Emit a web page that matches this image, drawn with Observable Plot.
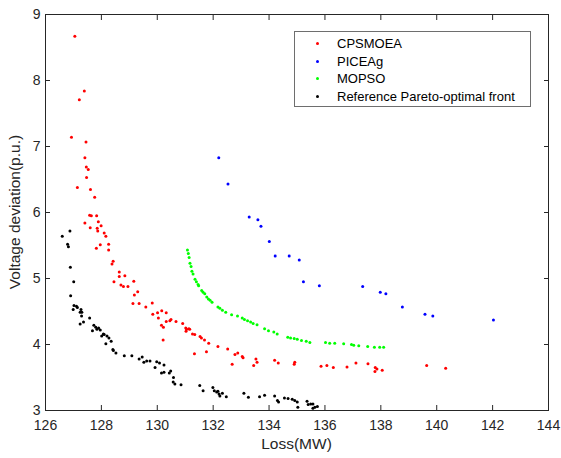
<!DOCTYPE html>
<html>
<head>
<meta charset="utf-8">
<script src="https://cdn.jsdelivr.net/npm/d3@7"></script>
<script src="https://cdn.jsdelivr.net/npm/@observablehq/plot@0.6"></script>
<style>
  body { margin: 0; background: #fff; }
  #wrap { position: relative; width: 561px; height: 458px; font-family: Arial, "Liberation Sans", sans-serif; }
  #legend { position: absolute; left: 294px; top: 31px; width: 237px; height: 76px; border: 1px solid #6e6e6e; background: #fff; box-sizing: border-box; }
  .row { position: absolute; left: 0; height: 18px; font-size: 13px; color: #000; line-height: 18px; }
  .row span.dot { position: absolute; left: 21px; top: 7px; width: 3px; height: 3px; border-radius: 50%; }
  .row span.lab { position: absolute; left: 42px; top: 0; white-space: nowrap; }
</style>
</head>
<body>
<div id="wrap"></div>
<script>
// Data: [Loss(MW), Voltage deviation(p.u.)]
const seriesNames = ["CPSMOEA", "PICEAg", "MOPSO", "Reference Pareto-optimal front"];
const seriesColors = ["#ff0000", "#0000ff", "#00ff00", "#000000"];
const xTicks = [126, 128, 130, 132, 134, 136, 138, 140, 142, 144];
const yTicks = [3, 4, 5, 6, 7, 8, 9];

const cpsmoea = [
  [127.05,8.67],[127.39,7.84],[127.21,7.71],[126.93,7.14],[127.45,7.07],[127.41,6.83],[127.46,6.69],[127.53,6.65],
  [127.47,6.53],[127.14,6.38],[127.61,6.35],[127.76,6.23],
  [127.58,5.96],[127.64,5.95],[127.83,5.95],[127.41,5.84],[127.89,5.86],[127.99,5.80],[127.60,5.77],[127.85,5.76],
  [127.87,5.72],[128.10,5.69],[128.16,5.64],[127.82,5.46],[127.96,5.51],[128.26,5.52],[128.26,5.43],[128.42,5.26],
  [128.38,5.22],[128.64,5.10],[128.84,5.04],[128.64,5.03],[128.45,4.95],[128.70,4.90],[128.79,4.88],[129.16,4.96],
  [128.95,4.88],[129.30,4.80],[129.18,4.75],[129.13,4.62],[129.35,4.62],[129.59,4.57],[129.82,4.63],[129.84,4.46],
  [130.01,4.48],[130.16,4.51],[130.32,4.48],[130.04,4.40],[130.15,4.29],[130.22,4.26],[130.32,4.35],[130.45,4.36],
  [130.49,4.38],[130.67,4.35],[130.91,4.32],[131.02,4.25],[131.05,4.23],[131.13,4.24],[131.03,4.20],[131.16,4.23],
  [131.26,4.16],[131.34,4.15],[131.53,4.12],[131.58,4.10],[131.69,4.07],[130.21,4.07],[131.84,4.02],[132.17,3.97],
  [131.33,3.86],[131.76,3.89],[132.52,3.93],[132.78,3.85],[132.88,3.87],[133.04,3.82],[133.07,3.80],[132.68,3.70],
  [133.53,3.78],[133.57,3.73],[133.45,3.68],[134.20,3.76],[134.33,3.72],[134.92,3.73],[134.90,3.70],
  [135.86,3.67],[136.07,3.68],[136.30,3.65],[136.79,3.66],[137.11,3.72],[137.54,3.71],[137.80,3.65],[137.86,3.63],
  [137.79,3.59],[138.05,3.61],[139.64,3.68],[140.32,3.64]
];

const piceag = [
  [132.20,6.83],[132.53,6.43],[133.29,5.93],[133.60,5.89],[133.71,5.79],[134.01,5.56],[134.22,5.34],[134.72,5.34],
  [135.08,5.28],[135.23,4.95],[135.80,4.89],[137.35,4.88],[137.98,4.79],[138.18,4.77],[138.77,4.57],[139.58,4.46],
  [139.86,4.43],[142.03,4.37]
];

const mopso = [
  [131.08,5.43],[131.11,5.38],[131.14,5.32],[131.17,5.23],[131.21,5.18],[131.24,5.11],[131.28,5.07],[131.35,4.99],
  [131.40,4.95],[131.46,4.91],[131.48,4.89],[131.59,4.82],[131.64,4.79],[131.70,4.77],[131.77,4.72],[131.83,4.69],
  [131.89,4.67],[131.96,4.64],[132.17,4.57],[132.24,4.55],[132.33,4.52],[132.45,4.49],[132.66,4.45],[132.87,4.43],
  [133.04,4.40],[133.12,4.38],[133.23,4.36],[133.34,4.34],[133.43,4.32],[133.57,4.30],[133.84,4.24],[133.98,4.21],
  [134.17,4.19],[134.29,4.16],[134.67,4.11],[134.77,4.10],[134.90,4.09],[135.01,4.08],[135.16,4.06],[135.33,4.05],
  [135.46,4.03],[136.02,4.03],[136.17,4.02],[136.35,4.02],[136.67,4.01],[136.95,4.00],[137.03,3.99],[137.21,3.98],
  [137.53,3.97],[137.77,3.96],[137.96,3.96],[138.10,3.96]
];

const reference = [
  [126.60,5.64],[126.875,5.72],[126.79,5.52],[126.82,5.48],[126.89,5.17],[127.01,4.95],[126.90,4.74],[127.02,4.59],
  [126.99,4.53],[127.11,4.58],[127.14,4.56],[127.27,4.53],[127.30,4.49],[127.24,4.49],[127.29,4.43],[127.24,4.31],
  [127.36,4.34],[127.58,4.40],[127.73,4.29],[127.68,4.21],[127.80,4.26],[127.84,4.23],[127.90,4.25],[127.96,4.22],
  [128.01,4.13],[128.07,4.16],[128.10,4.15],[128.20,4.13],[128.27,4.10],[128.35,4.05],[128.16,4.01],[128.41,3.925],
  [128.43,3.91],[128.52,3.87],[128.82,3.83],[129.09,3.83],[129.35,3.78],[129.46,3.81],[129.52,3.73],[129.62,3.75],
  [129.74,3.75],[129.92,3.65],[129.98,3.74],[130.08,3.72],[130.15,3.57],[130.24,3.69],[130.24,3.58],[130.43,3.57],
  [130.48,3.60],[130.58,3.50],[130.57,3.43],[130.63,3.40],[130.85,3.39],[131.52,3.38],[131.64,3.30],[131.99,3.35],
  [132.04,3.30],[132.125,3.28],[132.17,3.29],[132.21,3.25],[132.24,3.22],[132.33,3.26],[132.47,3.21],[133.10,3.26],
  [133.26,3.20],[133.66,3.21],[133.84,3.23],[134.20,3.22],[134.30,3.15],[134.34,3.13],[134.55,3.19],[134.68,3.18],
  [134.83,3.17],[134.92,3.15],[135.01,3.13],[135.03,3.05],[135.36,3.14],[135.40,3.09],[135.49,3.10],[135.57,3.10],
  [135.57,3.035],[135.64,3.05],[135.73,3.06]
];

const allSeries = [cpsmoea, piceag, mopso, reference];
const points = [];
allSeries.forEach((arr, i) => arr.forEach(([x, y]) => points.push({x, y, s: seriesNames[i]})));

const axisColor = "#262626";
const chart = Plot.plot({
  width: 561,
  height: 458,
  marginLeft: 45,
  marginRight: 13,
  marginTop: 14,
  marginBottom: 48,
  style: {fontFamily: "Arial, 'Liberation Sans', sans-serif", fontSize: "14px", color: axisColor, background: "#fff"},
  x: {domain: [126, 144]},
  y: {domain: [3, 9]},
  color: {domain: seriesNames, range: seriesColors},
  marks: [
    Plot.frame({stroke: axisColor, strokeWidth: 1}),
    Plot.axisX(xTicks, {anchor: "bottom", tickSize: -5, tickPadding: 15, tickFormat: "d", label: null, stroke: axisColor, fill: axisColor, fontSize: 14}),
    Plot.axisX(xTicks, {anchor: "top", tickSize: -5, tickFormat: () => "", label: null, stroke: axisColor}),
    Plot.axisY(yTicks, {anchor: "left", tickSize: -5, tickPadding: 10, tickFormat: "d", label: null, stroke: axisColor, fill: axisColor, fontSize: 14}),
    Plot.axisY(yTicks, {anchor: "right", tickSize: -5, tickFormat: () => "", label: null, stroke: axisColor}),
    Plot.dot(points, {x: "x", y: "y", fill: "s", r: 1.5, stroke: null})
  ]
});
const wrap = document.getElementById("wrap");
wrap.appendChild(chart);

// axis titles as SVG text
const svg = d3.select(chart.tagName.toLowerCase() === "svg" ? chart : chart.querySelector("svg"));
svg.append("text")
  .attr("x", (45 + 548) / 2).attr("y", 449)
  .attr("text-anchor", "middle")
  .attr("fill", axisColor)
  .style("font-size", "15.5px")
  .text("Loss(MW)");
svg.append("text")
  .attr("transform", `translate(20,${(14 + 410) / 2}) rotate(-90)`)
  .attr("text-anchor", "middle")
  .attr("fill", axisColor)
  .style("font-size", "15.5px")
  .text("Voltage deviation(p.u.)");

const legend = document.createElement("div");
legend.id = "legend";
seriesNames.forEach((name, i) => {
  const row = document.createElement("div");
  row.className = "row";
  row.style.top = (3 + i * 17.7) + "px";
  row.style.width = "100%";
  const dot = document.createElement("span");
  dot.className = "dot";
  dot.style.background = seriesColors[i];
  const lab = document.createElement("span");
  lab.className = "lab";
  lab.textContent = name;
  row.appendChild(dot);
  row.appendChild(lab);
  legend.appendChild(row);
});
wrap.appendChild(legend);
</script>
</body>
</html>
